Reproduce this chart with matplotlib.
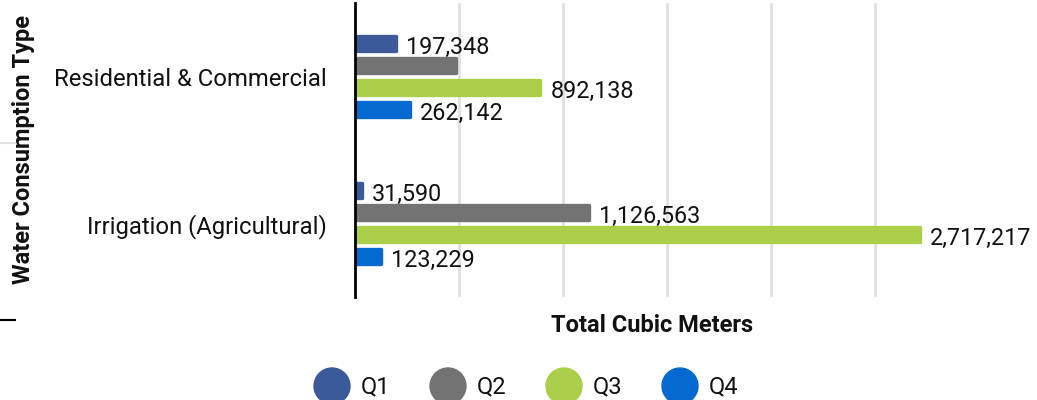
import matplotlib
matplotlib.use("Agg")
import matplotlib.pyplot as plt
from matplotlib.lines import Line2D
from matplotlib.patches import Ellipse
import numpy as np

plt.rcParams['font.family'] = ['Roboto', 'DejaVu Sans']

categories = ["Residential & Commercial", "Irrigation (Agricultural)"]
series_names = ["Q1", "Q2", "Q3", "Q4"]
values = {
    "Q1": [197348, 31590],
    "Q2": [486000, 1126563],
    "Q3": [892138, 2717217],
    "Q4": [262142, 123229],
}
show_label = {
    "Q1": [True, True],
    "Q2": [False, True],
    "Q3": [True, True],
    "Q4": [True, True],
}
colors = ["#3c5a99", "#737373", "#abcf4a", "#0569d2"]

W, H = 1037, 400
fig = plt.figure(figsize=(W / 100, H / 100), dpi=100)
ax = fig.add_axes([355 / W, 1 - 297 / H, (949 - 355) / W, (297 - 3) / H])

n = len(series_names)
slot = 0.15
bar_h = 0.103
y_pos = np.arange(len(categories))
for i, (name, col) in enumerate(zip(series_names, colors)):
    offs = (i - (n - 1) / 2) * slot
    ys = y_pos + offs
    vals = values[name]
    ax.barh(ys, vals, height=bar_h, color=col, edgecolor=col, linewidth=2.4,
            joinstyle='round', zorder=3)
    for y, v, s in zip(ys, vals, show_label[name]):
        if s:
            ax.annotate(f"{v:,}", (v, y), xytext=(10, -4), textcoords='offset pixels',
                        ha='left', va='center', fontsize=16.8, color='#111111', zorder=4)

ax.set_ylim(1.5, -0.5)
ax.set_xlim(0, 2.857e6)
ax.set_yticks(y_pos)
ax.set_yticklabels(categories, fontsize=17.2, color='#111111')
ax.tick_params(axis='y', length=0, pad=20)
ax.set_xticks([500000, 1000000, 1500000, 2000000, 2500000])
ax.tick_params(axis='x', length=0, labelbottom=False)
ax.grid(axis='x', color='#e0e0e0', linewidth=2, zorder=0)
for s in ['top', 'right', 'bottom']:
    ax.spines[s].set_visible(False)
ax.spines['left'].set_linewidth(2)
ax.spines['left'].set_color('black')
ax.spines['left'].set_zorder(5)

fig.text(24 / W, 1 - 150 / H, "Water Consumption Type", rotation=90, ha='center',
         va='center', fontsize=17, fontweight='bold', color='#111111')
fig.text(652 / W, 1 - 325 / H, "Total Cubic Meters", ha='center', va='center',
         fontsize=17, fontweight='bold', color='#111111')

# stray marks at left
fig.add_artist(Line2D([0, 15 / W], [1 - 143 / H, 1 - 143 / H], color='#e0e0e0', lw=1.5))
fig.add_artist(Line2D([0, 15 / W], [1 - 320 / H, 1 - 320 / H], color='black', lw=1.5))

# legend
lx = [332, 448, 564, 680]
for x, name, col in zip(lx, series_names, colors):
    fig.add_artist(Ellipse((x / W, 1 - 386 / H), width=36 / W, height=36 / H,
                           color=col, transform=fig.transFigure))
    fig.text((x + 29) / W, 1 - 387 / H, name, ha='left', va='center', fontsize=17,
             color='#111111')

fig.savefig("out.png", dpi=100)
